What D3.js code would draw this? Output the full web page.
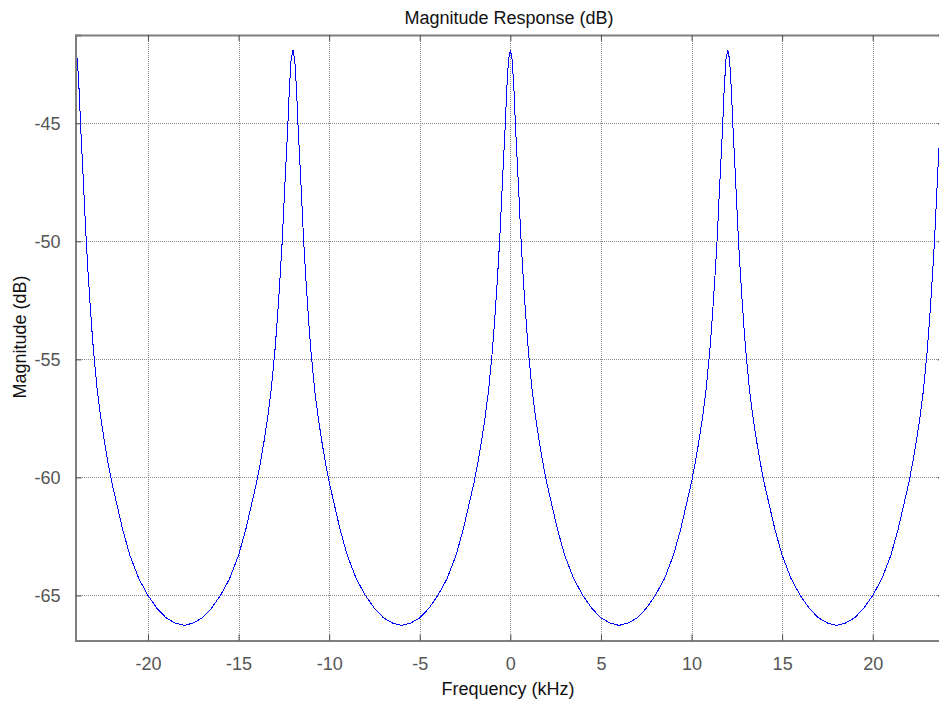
<!DOCTYPE html>
<html>
<head>
<meta charset="utf-8">
<script src="https://cdn.jsdelivr.net/npm/d3@7"></script>
<style>
  html, body { margin: 0; padding: 0; background: #fff; }
  svg { display: block; }
  text { font-family: "Liberation Sans", Arial, Helvetica, sans-serif; }
</style>
</head>
<body>
<svg id="chart" width="939" height="704"></svg>
<script>
// ---- data ----
const freqKHz = [
  -24, -23.9, -23.8, -23.7, -23.6, -23.5, -23.4, -23.3, -23.2, -23.1, -23, -22.8, -22.6, -22.4, -22.2, -22, -21.7, -21.4, -21, -20.5, -20, -19.5, -19, -18.5, -18,
  -17.5, -17, -16.5, -16, -15.5, -15, -14.6, -14.3, -14, -13.8, -13.6, -13.4, -13.2, -13, -12.9, -12.8, -12.7, -12.6, -12.5, -12.4, -12.3, -12.2, -12.1, -12,
  -11.9, -11.8, -11.7, -11.6, -11.5, -11.4, -11.3, -11.2, -11.1, -11, -10.8, -10.6, -10.4, -10.2, -10, -9.7, -9.4, -9, -8.5, -8, -7.5, -7, -6.5, -6,
  -5.5, -5, -4.5, -4, -3.5, -3, -2.6, -2.3, -2, -1.8, -1.6, -1.4, -1.2, -1, -0.9, -0.8, -0.7, -0.6, -0.5, -0.4, -0.3, -0.2, -0.1, 0,
  0.1, 0.2, 0.3, 0.4, 0.5, 0.6, 0.7, 0.8, 0.9, 1, 1.2, 1.4, 1.6, 1.8, 2, 2.3, 2.6, 3, 3.5, 4, 4.5, 5, 5.5, 6,
  6.5, 7, 7.5, 8, 8.5, 9, 9.4, 9.7, 10, 10.2, 10.4, 10.6, 10.8, 11, 11.1, 11.2, 11.3, 11.4, 11.5, 11.6, 11.7, 11.8, 11.9, 12,
  12.1, 12.2, 12.3, 12.4, 12.5, 12.6, 12.7, 12.8, 12.9, 13, 13.2, 13.4, 13.6, 13.8, 14, 14.3, 14.6, 15, 15.5, 16, 16.5, 17, 17.5, 18,
  18.5, 19, 19.5, 20, 20.5, 21, 21.4, 21.7, 22, 22.2, 22.4, 22.6, 22.8, 23, 23.1, 23.2, 23.3, 23.4, 23.5, 23.6, 23.7, 23.8, 23.9
];
const magDB = [
  -41.9, -42.3, -43.6, -45.4, -46.9, -48.5, -50.1, -51.4, -52.6, -53.7, -54.7, -56.3, -57.5, -58.5, -59.4, -60.2, -61.2, -62.2, -63.3, -64.3, -65.0, -65.55, -65.95, -66.17, -66.27,
  -66.17, -65.95, -65.55, -65.0, -64.3, -63.3, -62.2, -61.2, -60.2, -59.4, -58.5, -57.5, -56.3, -54.7, -53.7, -52.6, -51.4, -50.1, -48.5, -46.9, -45.4, -43.6, -42.3, -41.9,
  -42.3, -43.6, -45.4, -46.9, -48.5, -50.1, -51.4, -52.6, -53.7, -54.7, -56.3, -57.5, -58.5, -59.4, -60.2, -61.2, -62.2, -63.3, -64.3, -65.0, -65.55, -65.95, -66.17, -66.27,
  -66.17, -65.95, -65.55, -65.0, -64.3, -63.3, -62.2, -61.2, -60.2, -59.4, -58.5, -57.5, -56.3, -54.7, -53.7, -52.6, -51.4, -50.1, -48.5, -46.9, -45.4, -43.6, -42.3, -41.9,
  -42.3, -43.6, -45.4, -46.9, -48.5, -50.1, -51.4, -52.6, -53.7, -54.7, -56.3, -57.5, -58.5, -59.4, -60.2, -61.2, -62.2, -63.3, -64.3, -65.0, -65.55, -65.95, -66.17, -66.27,
  -66.17, -65.95, -65.55, -65.0, -64.3, -63.3, -62.2, -61.2, -60.2, -59.4, -58.5, -57.5, -56.3, -54.7, -53.7, -52.6, -51.4, -50.1, -48.5, -46.9, -45.4, -43.6, -42.3, -41.9,
  -42.3, -43.6, -45.4, -46.9, -48.5, -50.1, -51.4, -52.6, -53.7, -54.7, -56.3, -57.5, -58.5, -59.4, -60.2, -61.2, -62.2, -63.3, -64.3, -65.0, -65.55, -65.95, -66.17, -66.27,
  -66.17, -65.95, -65.55, -65.0, -64.3, -63.3, -62.2, -61.2, -60.2, -59.4, -58.5, -57.5, -56.3, -54.7, -53.7, -52.6, -51.4, -50.1, -48.5, -46.9, -45.4, -43.6, -42.3
];
const xTicks = [-20, -15, -10, -5, 0, 5, 10, 15, 20];
const yTicks = [-45, -50, -55, -60, -65];
const xLimits = [-24, 23.906];
const yLimits = [-66.91, -41.26];

const titleText = "Magnitude Response (dB)";
const xLabelText = "Frequency (kHz)";
const yLabelText = "Magnitude (dB)";

// ---- layout ----
const plot = { left: 75.5, right: 943.5, top: 35, bottom: 640.5 };

const svg = d3.select("#chart");
svg.append("rect").attr("width", 939).attr("height", 704).attr("fill", "#fff");

const x = d3.scaleLinear().domain(xLimits).range([plot.left, plot.right]);
const y = d3.scaleLinear().domain(yLimits).range([plot.bottom, plot.top]);

// grid
const grid = svg.append("g").attr("stroke", "#8c8c8c").attr("stroke-width", 1)
  .attr("stroke-dasharray", "1,1").attr("shape-rendering", "crispEdges");
grid.selectAll("line.gx").data(xTicks).join("line")
  .attr("x1", d => Math.round(x(d)) + 0.5).attr("x2", d => Math.round(x(d)) + 0.5)
  .attr("y1", plot.top).attr("y2", plot.bottom);
grid.selectAll("line.gy").data(yTicks).join("line")
  .attr("y1", d => Math.round(y(d)) + 0.5).attr("y2", d => Math.round(y(d)) + 0.5)
  .attr("x1", plot.left).attr("x2", plot.right);

// curve
svg.append("clipPath").attr("id", "clip").append("rect")
  .attr("x", plot.left).attr("y", plot.top)
  .attr("width", plot.right - plot.left).attr("height", plot.bottom - plot.top);

const pts = freqKHz.map((f, i) => [f, magDB[i]]);
const line = d3.line().x(d => x(d[0])).y(d => y(d[1]));
svg.append("path").datum(pts)
  .attr("clip-path", "url(#clip)")
  .attr("d", line)
  .attr("fill", "none").attr("stroke", "#0000ff").attr("stroke-width", 1)
  .attr("shape-rendering", "crispEdges");

// axes (box with inward ticks)
const axisColor = "#7f7f7f";
const tickColor = "#4d4d4d";
const axisG = svg.append("g");
const fmt = d => String(d);

const bottomAxis = d3.axisBottom(x).tickValues(xTicks).tickSize(-6).tickPadding(20).tickFormat(fmt);
const gB = axisG.append("g").attr("transform", `translate(0,${plot.bottom})`).call(bottomAxis);
const topAxis = d3.axisTop(x).tickValues(xTicks).tickSize(-6).tickFormat("");
const gT = axisG.append("g").attr("transform", `translate(0,${plot.top})`).call(topAxis);
const leftAxis = d3.axisLeft(y).tickValues(yTicks).tickSize(-6).tickPadding(15).tickFormat(fmt);
const gL = axisG.append("g").attr("transform", `translate(${plot.left},0)`).call(leftAxis);
const rightAxis = d3.axisRight(y).tickValues(yTicks).tickSize(-6).tickFormat("");
const gR = axisG.append("g").attr("transform", `translate(${plot.right},0)`).call(rightAxis);

[gB, gT, gL, gR].forEach(g => {
  g.select(".domain").attr("stroke", axisColor).attr("stroke-width", 2);
  g.selectAll(".tick line").attr("stroke", tickColor).attr("stroke-width", 1);
  g.selectAll(".tick text").attr("fill", "#555").attr("font-size", 18)
   .attr("font-family", "'Liberation Sans', Arial, sans-serif");
});
gB.selectAll(".tick text").attr("dy", "0.55em");

// titles
svg.append("text").attr("x", 509).attr("y", 24).attr("text-anchor", "middle")
  .attr("font-size", 18).attr("fill", "#111").text(titleText);
svg.append("text").attr("x", 508).attr("y", 695).attr("text-anchor", "middle")
  .attr("font-size", 18).attr("fill", "#111").text(xLabelText);
svg.append("text").attr("transform", "translate(26,337) rotate(-90)").attr("text-anchor", "middle")
  .attr("font-size", 18).attr("fill", "#111").text(yLabelText);
</script>
</body>
</html>
